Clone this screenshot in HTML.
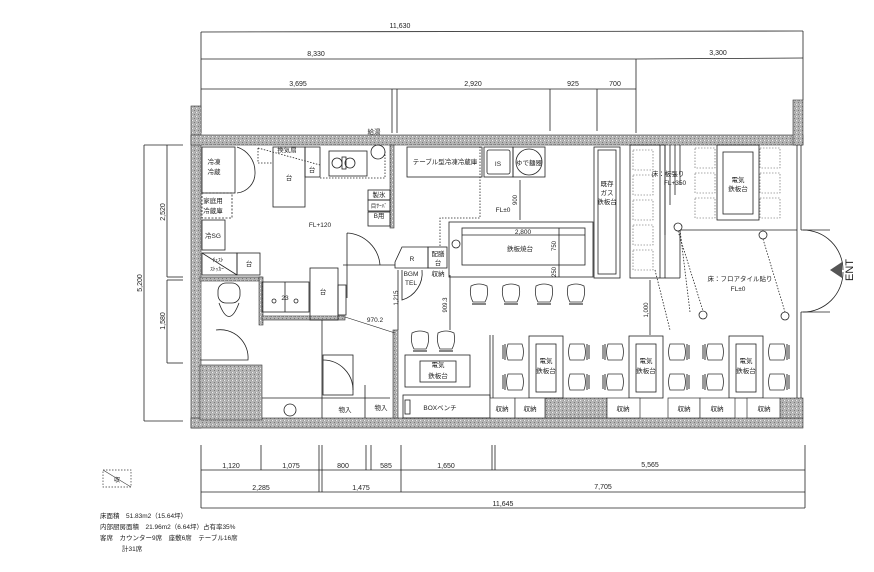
<!DOCTYPE html>
<html><head><meta charset="utf-8"><style>
html,body{margin:0;padding:0;background:#fff;}
svg{display:block}
text{font-family:"Liberation Sans","Noto Sans CJK JP",sans-serif;fill:#222;}
</style></head><body>
<svg width="874" height="572" viewBox="0 0 874 572" xmlns="http://www.w3.org/2000/svg">
<defs>
<pattern id="h" width="4" height="4" patternUnits="userSpaceOnUse">
<rect width="4" height="4" fill="#b4b4b4"/><rect x="0" y="0" width="1" height="1" fill="#eee"/><rect x="2" y="2" width="1" height="1" fill="#777"/><rect x="3" y="0" width="1" height="1" fill="#999"/>
</pattern>
<g id="ch"><path d="M2,3 Q10,-1 18,3 Q20,12 16,19 L4,19 Q0,12 2,3Z" fill="#fff" stroke="#333" stroke-width="0.8"/><path d="M3,21 L17,21" stroke="#333" stroke-width="1.2"/></g>
<g id="cs"><path d="M3,2 Q0,10 3,18 L17,18 Q20,10 17,2Z" fill="#fff" stroke="#333" stroke-width="0.8"/><path d="M20,2 L20,18 M22,3 L22,17" stroke="#333" stroke-width="1"/></g>
<g id="cs2"><path d="M5,2 Q2,10 5,18 L19,18 Q22,10 19,2Z" fill="#fff" stroke="#333" stroke-width="0.8"/><path d="M0,3 L0,17 M2,2 L2,18" stroke="#333" stroke-width="1"/></g>
</defs>
<g stroke="#222" stroke-width="0.8" fill="none">
<!-- top dims -->
<line x1="201" y1="32" x2="803" y2="31"/>
<line x1="201" y1="59" x2="636" y2="59"/><line x1="636" y1="59" x2="803" y2="58"/>
<line x1="201" y1="89" x2="636" y2="89"/>
<line x1="201" y1="32" x2="201" y2="133"/><line x1="803" y1="31" x2="803" y2="100"/>
<line x1="636" y1="59" x2="636" y2="133"/><line x1="392" y1="89" x2="392" y2="133"/><line x1="397" y1="89" x2="397" y2="133"/>
<line x1="550" y1="89" x2="550" y2="131"/><line x1="597" y1="89" x2="597" y2="131"/>
<!-- left dims -->
<line x1="144" y1="145" x2="144" y2="421"/><line x1="167" y1="145" x2="167" y2="277"/><line x1="167" y1="280" x2="167" y2="363"/>
<line x1="144" y1="145" x2="183" y2="145"/><line x1="144" y1="421" x2="183" y2="421"/><line x1="167" y1="277" x2="183" y2="277"/><line x1="167" y1="280" x2="183" y2="280"/><line x1="167" y1="363" x2="183" y2="363"/>
<!-- bottom dims -->
<line x1="201" y1="470" x2="805" y2="470"/><line x1="201" y1="492" x2="805" y2="492"/><line x1="201" y1="508" x2="805" y2="508"/>
<line x1="201" y1="445" x2="201" y2="508"/><line x1="805" y1="445" x2="805" y2="508"/>
<line x1="261" y1="445" x2="261" y2="470"/><line x1="319" y1="445" x2="319" y2="492"/><line x1="322" y1="445" x2="322" y2="492"/>
<line x1="366" y1="445" x2="366" y2="470"/><line x1="371" y1="445" x2="371" y2="470"/><line x1="401" y1="445" x2="401" y2="492"/>
<line x1="492" y1="445" x2="492" y2="470"/><line x1="495" y1="445" x2="495" y2="470"/>
</g>
<g font-size="7" text-anchor="middle">
<text x="400" y="28">11,630</text><text x="316" y="56">8,330</text><text x="718" y="55">3,300</text>
<text x="298" y="86">3,695</text><text x="473" y="86">2,920</text><text x="573" y="86">925</text><text x="615" y="86">700</text>
<text x="231" y="468">1,120</text><text x="291" y="468">1,075</text><text x="343" y="468">800</text><text x="386" y="468">585</text><text x="446" y="468">1,650</text><text x="650" y="467">5,565</text>
<text x="261" y="490">2,285</text><text x="361" y="490">1,475</text><text x="603" y="489">7,705</text>
<text x="503" y="506">11,645</text>
<text transform="translate(142,283) rotate(-90)">5,200</text><text transform="translate(165,212) rotate(-90)">2,520</text><text transform="translate(165,321) rotate(-90)">1,580</text>
</g>
<!-- legend -->
<rect x="103" y="470" width="28" height="17" fill="none" stroke="#333" stroke-dasharray="1.5,1.5" stroke-width="0.7"/>
<line x1="103" y1="470" x2="131" y2="487" stroke="#333" stroke-width="0.6"/>
<text x="117" y="482" font-size="6" text-anchor="middle">収</text>
<g font-size="6.5">
<text x="100" y="518">床面積　51.83m2（15.64坪）</text>
<text x="100" y="529">内部厨房面積　21.96m2（6.64坪）占有率35%</text>
<text x="100" y="540">客席　カウンター9席　座敷6席　テーブル16席</text>
<text x="122" y="551">計31席</text>
</g>
<!-- walls -->
<g fill="url(#h)" stroke="#333" stroke-width="0.6">
<rect x="191" y="106" width="10" height="322"/>
<rect x="191" y="135" width="612" height="10"/>
<rect x="793" y="100" width="10" height="45"/>
<rect x="191" y="418" width="612" height="10"/>
<rect x="200" y="365" width="62" height="55"/>
<rect x="545" y="398" width="62" height="20"/>
<rect x="780" y="398" width="23" height="20"/>
<rect x="390" y="145" width="4" height="83"/>
<rect x="200" y="277" width="62" height="4"/>
<rect x="259" y="277" width="4" height="48"/>
<rect x="262" y="316" width="83" height="4"/>
<rect x="393" y="330" width="5" height="88"/>
</g>
<g stroke="#222" stroke-width="0.8" fill="none">
<!-- right window/entrance -->
<line x1="797" y1="145" x2="797" y2="398"/><line x1="801" y1="145" x2="801" y2="230"/><line x1="801" y1="312" x2="801" y2="398"/>
<line x1="801" y1="230" x2="830" y2="230"/><line x1="801" y1="312" x2="830" y2="312"/>
<path d="M803,230 A40,40 0 0 1 843,270"/><path d="M803,312 A40,40 0 0 0 843,272"/>
<!-- kitchen -->
<rect x="202" y="147" width="33" height="46"/><path d="M237,147 A26,26 0 0 1 255,172 M237,193 A20,20 0 0 0 255,172"/>
<rect x="202" y="193" width="30" height="25" stroke-dasharray="2,1.5"/>
<rect x="202" y="220" width="23" height="30"/>
<rect x="202" y="253" width="35" height="22"/><line x1="202" y1="253" x2="237" y2="275"/><rect x="237" y="253" width="23" height="22"/>
<rect x="273" y="147" width="32" height="60"/>
<rect x="305" y="147" width="15" height="30"/>
<rect x="329" y="151" width="38" height="25"/><circle cx="337" cy="163" r="5"/><circle cx="350" cy="163" r="5"/><rect x="342" y="157" width="4" height="12"/>
<circle cx="378" cy="152" r="7"/>
<path d="M320,178 L385,178 L385,150" stroke-dasharray="1.5,1.5"/><path d="M258,148 L320,165 M258,148 L258,163 L273,163" stroke-dasharray="1.5,1.5"/>
<rect x="368" y="190" width="22" height="10"/><rect x="368" y="200" width="22" height="11"/><rect x="368" y="212" width="22" height="14"/>
<path d="M347,233 A35,35 0 0 1 380,265 M347,233 L347,298"/>
<rect x="310" y="268" width="28" height="52"/><rect x="338" y="285" width="8" height="30"/>
<rect x="262" y="282" width="47" height="30"/><line x1="285" y1="282" x2="285" y2="312"/><circle cx="274" cy="301" r="2"/><circle cx="296" cy="301" r="2"/>
<line x1="343" y1="265" x2="395" y2="265"/>
<rect x="218" y="283" width="22" height="20" rx="8"/><path d="M219,303 Q229,330 239,303"/>
<path d="M216,330 A28,28 0 0 1 248,360 L200,360"/>
<rect x="323" y="355" width="30" height="40"/><path d="M323,360 A30,30 0 0 1 353,390"/>
<line x1="322" y1="320" x2="322" y2="418"/><line x1="262" y1="398" x2="390" y2="398"/><line x1="365" y1="385" x2="365" y2="418"/>
<circle cx="290" cy="410" r="6"/>
<path d="M345,317 L395,333" stroke-width="0.6"/>
<!-- bar area -->
<path d="M395,262 L402,247 L428,247 L428,268 L395,268Z"/><rect x="428" y="247" width="19" height="21"/>
<path d="M402,270 L402,300 A28,28 0 0 0 422,270"/>
<line x1="398" y1="270" x2="398" y2="330"/>
<line x1="450" y1="275" x2="450" y2="330"/>
<rect x="407" y="147" width="75" height="30"/>
<rect x="484" y="147" width="29" height="30"/><rect x="487" y="150" width="23" height="24" rx="2"/>
<rect x="513" y="147" width="32" height="30"/><circle cx="529" cy="162" r="13"/>
<path d="M440,246 L440,218 L480,218 L480,145" stroke-dasharray="1.5,1.5"/>
<line x1="520" y1="180" x2="520" y2="220"/>
<rect x="449" y="222" width="144" height="55"/><rect x="462" y="228" width="123" height="37"/><line x1="462" y1="235" x2="585" y2="235"/><line x1="559" y1="228" x2="559" y2="277"/><circle cx="456" cy="244" r="4"/>
<rect x="594" y="147" width="26" height="131"/><rect x="598" y="150" width="18" height="124"/>
<rect x="405" y="355" width="65" height="32"/><rect x="420" y="361" width="36" height="21"/>
<rect x="403" y="395" width="87" height="23"/><rect x="405" y="400" width="5" height="14"/>
<line x1="490" y1="335" x2="490" y2="398"/><line x1="493" y1="335" x2="493" y2="398"/>
<!-- zashiki -->
<rect x="630" y="145" width="35" height="133"/><line x1="660" y1="145" x2="660" y2="278"/>
<line x1="665" y1="145" x2="665" y2="235"/><line x1="670" y1="145" x2="670" y2="205"/><line x1="675" y1="145" x2="675" y2="195"/><line x1="680" y1="145" x2="680" y2="185"/>
<line x1="680" y1="230" x2="797" y2="230"/><line x1="680" y1="230" x2="680" y2="278"/><line x1="665" y1="278" x2="680" y2="278"/>
<rect x="717" y="145" width="42" height="75"/><rect x="723" y="152" width="30" height="62"/>
<line x1="655" y1="270" x2="670" y2="330" stroke-dasharray="1.5,1.5"/><line x1="680" y1="230" x2="690" y2="312" stroke-dasharray="1.5,1.5"/>
<circle cx="678" cy="227" r="4"/><circle cx="703" cy="315" r="4"/><circle cx="763" cy="235" r="4"/><circle cx="785" cy="316" r="4"/>
<line x1="678" y1="231" x2="703" y2="311" stroke-dasharray="1.5,1.5"/><line x1="763" y1="239" x2="785" y2="312" stroke-dasharray="1.5,1.5"/>
<line x1="650" y1="280" x2="650" y2="335"/>
<!-- tables -->
<rect x="529" y="336" width="34" height="62"/><rect x="536" y="344" width="20" height="48"/>
<rect x="629" y="336" width="34" height="62"/><rect x="636" y="344" width="20" height="48"/>
<rect x="729" y="336" width="34" height="62"/><rect x="736" y="344" width="20" height="48"/>
</g>
<g stroke="#555" stroke-width="0.6" fill="none" stroke-dasharray="1.5,1.5">
<rect x="633" y="150" width="20" height="20"/><rect x="633" y="175" width="20" height="20"/><rect x="633" y="200" width="20" height="20"/><rect x="633" y="225" width="20" height="20"/><rect x="633" y="250" width="20" height="20"/>
<rect x="695" y="148" width="20" height="20"/><rect x="695" y="173" width="20" height="20"/><rect x="695" y="198" width="20" height="20"/>
<rect x="760" y="148" width="20" height="20"/><rect x="760" y="173" width="20" height="20"/><rect x="760" y="198" width="20" height="20"/>
</g>
<g stroke="#333" stroke-width="0.7" fill="#fff">
<rect x="490" y="398" width="25" height="20"/><rect x="515" y="398" width="30" height="20"/>
<rect x="607" y="398" width="33" height="20"/><rect x="668" y="398" width="32" height="20"/><rect x="700" y="398" width="35" height="20"/><rect x="747" y="398" width="33" height="20"/>
</g>
<!-- chairs -->
<use href="#ch" x="469" y="283"/><use href="#ch" x="501" y="283"/><use href="#ch" x="534" y="283"/><use href="#ch" x="566" y="283"/>
<use href="#ch" x="410" y="330"/><use href="#ch" x="436" y="330"/>
<use href="#cs2" x="503" y="342"/><use href="#cs2" x="503" y="372"/><use href="#cs" x="567" y="342"/><use href="#cs" x="567" y="372"/>
<use href="#cs2" x="603" y="342"/><use href="#cs2" x="603" y="372"/><use href="#cs" x="667" y="342"/><use href="#cs" x="667" y="372"/>
<use href="#cs2" x="703" y="342"/><use href="#cs2" x="703" y="372"/><use href="#cs" x="767" y="342"/><use href="#cs" x="767" y="372"/>
<polygon points="830,270 842,262 842,278" fill="#555"/>
<text transform="translate(853,270) rotate(-90)" font-size="11" text-anchor="middle">ENT</text>
<g font-size="6.5" text-anchor="middle">
<text x="374" y="134">給湯</text>
<text x="214" y="164">冷凍</text><text x="214" y="174">冷蔵</text>
<text x="213" y="203">家庭用</text><text x="213" y="213">冷蔵庫</text>
<text x="213" y="238">冷SG</text><text x="218" y="262" font-size="5.5">ﾁｪｽﾄ</text><text x="217" y="271" font-size="5.5">ｽﾄｯｶｰ</text><text x="249" y="266">台</text>
<text x="287" y="152">換気扇</text><text x="289" y="180">台</text><text x="312" y="172">台</text>
<text x="379" y="197">製氷</text><text x="379" y="208" font-size="5.5">目ｻｰﾊﾞ</text><text x="379" y="218">B用</text>
<text x="320" y="227">FL+120</text><text x="323" y="294">台</text><text x="285" y="300">23</text>
<text x="412" y="261">R</text><text x="438" y="256">配膳</text><text x="438" y="265">台</text>
<text x="411" y="276">BGM</text><text x="411" y="285">TEL</text><text x="438" y="276">収納</text>
<text x="375" y="322">970.2</text>
<text x="345" y="412">物入</text><text x="381" y="410">物入</text>
<text x="438" y="367">電気</text><text x="438" y="378">鉄板台</text>
<text x="440" y="410">BOXベンチ</text>
<text x="445" y="164">テーブル型冷凍冷蔵庫</text><text x="498" y="166">IS</text><text x="529" y="165">ゆで麺器</text>
<text x="503" y="212">FL±0</text><text x="523" y="234">2,800</text><text x="520" y="251">鉄板焼台</text>
<text x="607" y="186">既存</text><text x="607" y="195">ガス</text><text x="607" y="204">鉄板台</text>
<text x="668" y="176">床：板張り</text><text x="675" y="185">FL+350</text>
<text x="738" y="182">電気</text><text x="738" y="191">鉄板台</text>
<text x="740" y="281">床：フロアタイル貼り</text><text x="738" y="291">FL±0</text>
<text x="546" y="363">電気</text><text x="546" y="373">鉄板台</text><text x="646" y="363">電気</text><text x="646" y="373">鉄板台</text><text x="746" y="363">電気</text><text x="746" y="373">鉄板台</text>
<text x="502" y="411">収納</text><text x="530" y="411">収納</text><text x="623" y="411">収納</text><text x="684" y="411">収納</text><text x="717" y="411">収納</text><text x="764" y="411">収納</text>
</g>
<g font-size="6" text-anchor="middle">
<text transform="translate(517,200) rotate(-90)">900</text>
<text transform="translate(556,246) rotate(-90)">750</text><text transform="translate(556,272) rotate(-90)">250</text>
<text transform="translate(648,310) rotate(-90)">1,000</text>
<text transform="translate(398,298) rotate(-90)">1,215</text>
<text transform="translate(447,305) rotate(-90)">909.3</text>
</g>
</svg>
</body></html>
